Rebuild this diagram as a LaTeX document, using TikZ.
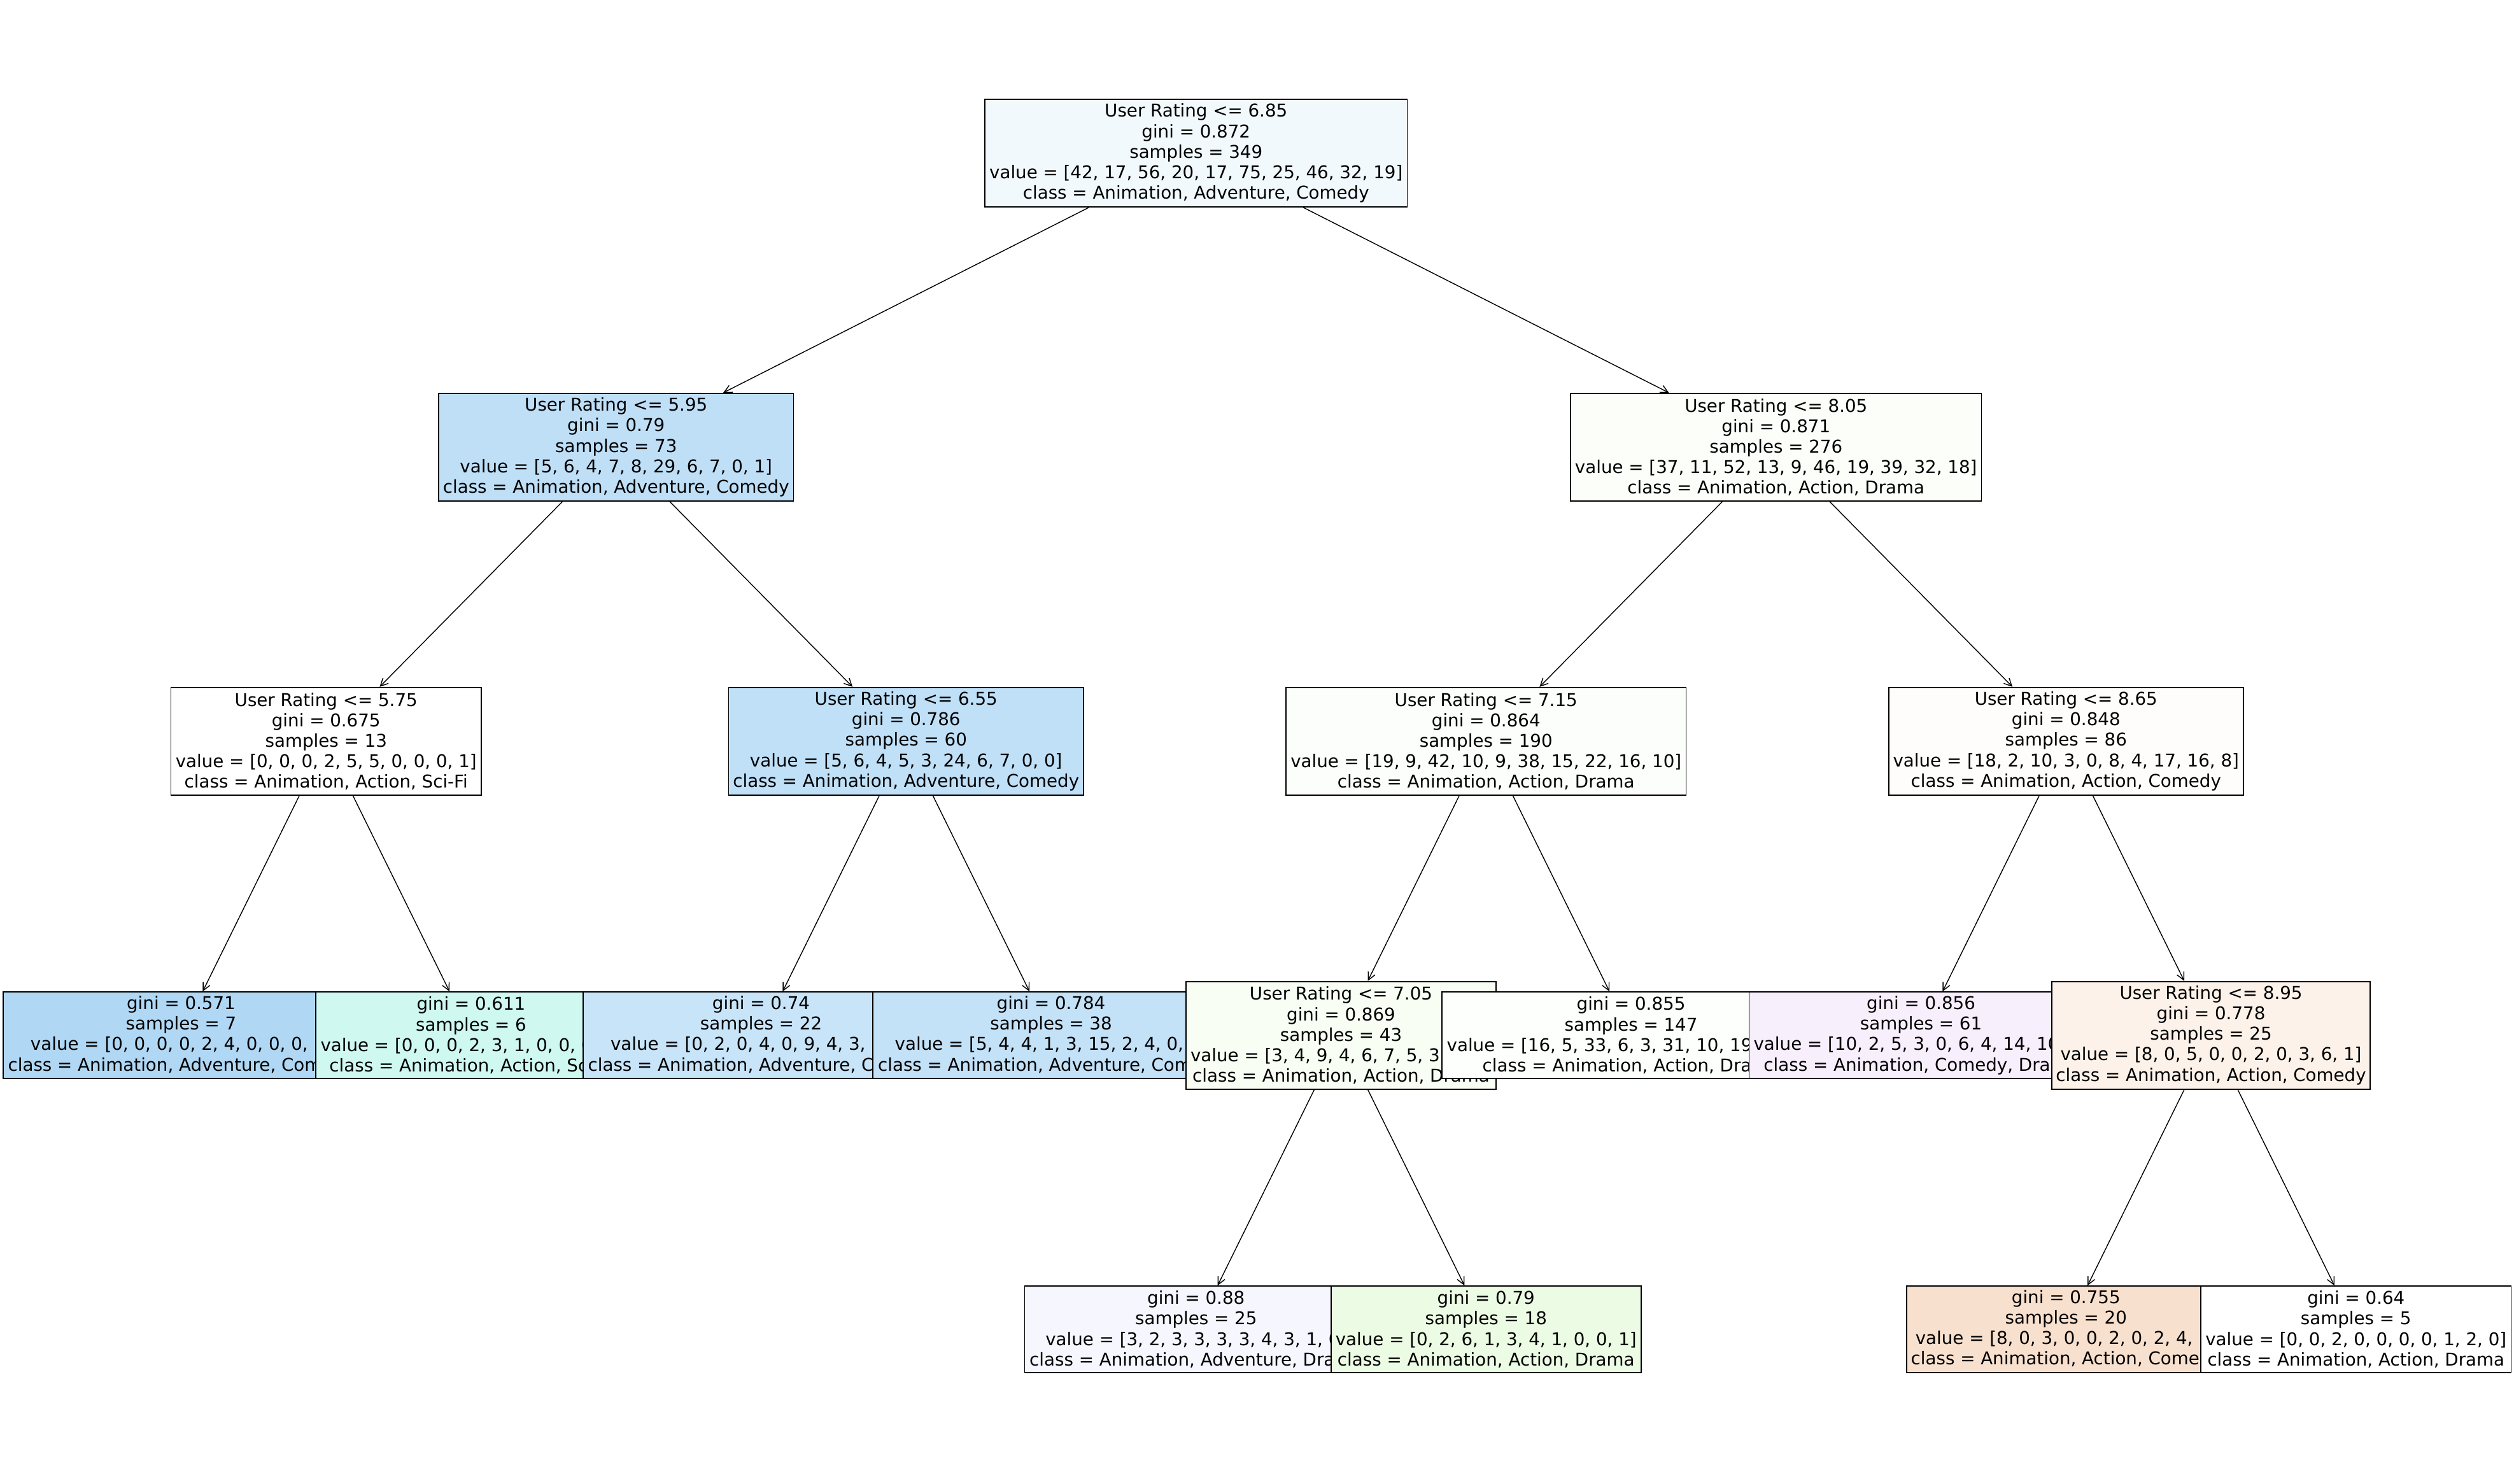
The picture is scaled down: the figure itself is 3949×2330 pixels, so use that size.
\documentclass[tikz,border=0pt]{standalone}
\usepackage{fontspec}
\setmainfont{DejaVu Sans}
\usetikzlibrary{arrows.meta}
\definecolor{cR}{RGB}{242,249,253}
\definecolor{cA}{RGB}{191,223,247}
\definecolor{cB}{RGB}{252,254,250}
\definecolor{cC}{RGB}{255,255,255}
\definecolor{cD}{RGB}{191,224,247}
\definecolor{cE}{RGB}{251,254,250}
\definecolor{cF}{RGB}{255,253,252}
\definecolor{cG}{RGB}{176,216,245}
\definecolor{cH}{RGB}{206,248,240}
\definecolor{cI}{RGB}{200,228,248}
\definecolor{cJ}{RGB}{195,225,247}
\definecolor{cK}{RGB}{248,254,244}
\definecolor{cL}{RGB}{253,255,252}
\definecolor{cM}{RGB}{248,239,253}
\definecolor{cN}{RGB}{252,242,234}
\definecolor{cO}{RGB}{246,246,254}
\definecolor{cP}{RGB}{236,251,227}
\definecolor{cQ}{RGB}{248,224,206}
\definecolor{cS}{RGB}{255,255,255}
\tikzset{
  tn/.style={draw=black, line width=0.5pt, rectangle, align=center,
    inner xsep=0.05cm, inner ysep=0.02cm,
    font=\fontsize{7.88}{9.13}\selectfont, minimum height=1.69cm},
  lf/.style={tn, minimum height=1.36cm},
  arr/.style={-{Straight Barb[length=0.12cm,width=0.12cm]}, line width=0.4pt},
}
\begin{document}
\begin{tikzpicture}[x=0.01cm, y=-0.01cm]
\useasboundingbox (0,0) rectangle (3949,2330);
% level 0
\node[tn, fill=cR, minimum width=6.63cm] (root) at (1878.75,240.5) {User Rating <= 6.85\\gini = 0.872\\samples = 349\\value = [42, 17, 56, 20, 17, 75, 25, 46, 32, 19]\\class = Animation, Adventure, Comedy};
% left subtree
\node[tn, fill=cA, minimum width=5.57cm] (A) at (967.75,702.4) {User Rating <= 5.95\\gini = 0.79\\samples = 73\\value = [5, 6, 4, 7, 8, 29, 6, 7, 0, 1]\\class = Animation, Adventure, Comedy};
\node[tn, fill=cC, minimum width=4.87cm] (C) at (512.25,1164.3) {User Rating <= 5.75\\gini = 0.675\\samples = 13\\value = [0, 0, 0, 2, 5, 5, 0, 0, 0, 1]\\class = Animation, Action, Sci-Fi};
\node[lf, fill=cG, minimum width=5.59cm] (G) at (284.5,1626.2) {gini = 0.571\\samples = 7\\value = [0, 0, 0, 0, 2, 4, 0, 0, 0, 1]\\class = Animation, Adventure, Comedy};
\node[lf, fill=cH, minimum width=4.87cm] (H) at (740,1626.2) {gini = 0.611\\samples = 6\\value = [0, 0, 0, 2, 3, 1, 0, 0, 0, 0]\\class = Animation, Action, Sci-Fi};
\node[tn, fill=cD, minimum width=5.57cm] (D) at (1423.25,1164.3) {User Rating <= 6.55\\gini = 0.786\\samples = 60\\value = [5, 6, 4, 5, 3, 24, 6, 7, 0, 0]\\class = Animation, Adventure, Comedy};
\node[lf, fill=cI, minimum width=5.59cm] (I) at (1195.5,1626.2) {gini = 0.74\\samples = 22\\value = [0, 2, 0, 4, 0, 9, 4, 3, 0, 0]\\class = Animation, Adventure, Comedy};
\node[lf, fill=cJ, minimum width=5.59cm] (J) at (1651,1626.2) {gini = 0.784\\samples = 38\\value = [5, 4, 4, 1, 3, 15, 2, 4, 0, 0]\\class = Animation, Adventure, Comedy};
% right subtree
\node[tn, fill=cB, minimum width=6.45cm] (B) at (2789.75,702.4) {User Rating <= 8.05\\gini = 0.871\\samples = 276\\value = [37, 11, 52, 13, 9, 46, 19, 39, 32, 18]\\class = Animation, Action, Drama};
\node[tn, fill=cE, minimum width=6.28cm] (E) at (2334.25,1164.3) {User Rating <= 7.15\\gini = 0.864\\samples = 190\\value = [19, 9, 42, 10, 9, 38, 15, 22, 16, 10]\\class = Animation, Action, Drama};
\node[tn, fill=cK, minimum width=4.87cm] (K) at (2106.5,1626.2) {User Rating <= 7.05\\gini = 0.869\\samples = 43\\value = [3, 4, 9, 4, 6, 7, 5, 3, 1, 1]\\class = Animation, Action, Drama};
\node[lf, fill=cO, minimum width=5.38cm] (O) at (1878.75,2088.1) {gini = 0.88\\samples = 25\\value = [3, 2, 3, 3, 3, 3, 4, 3, 1, 0]\\class = Animation, Adventure, Drama};
\node[lf, fill=cP, minimum width=4.87cm] (P) at (2334.25,2088.1) {gini = 0.79\\samples = 18\\value = [0, 2, 6, 1, 3, 4, 1, 0, 0, 1]\\class = Animation, Action, Drama};
\node[lf, fill=cL, minimum width=5.93cm] (L) at (2562,1626.2) {gini = 0.855\\samples = 147\\value = [16, 5, 33, 6, 3, 31, 10, 19, 15, 9]\\class = Animation, Action, Drama};
\node[tn, fill=cF, minimum width=5.57cm] (F) at (3245.25,1164.3) {User Rating <= 8.65\\gini = 0.848\\samples = 86\\value = [18, 2, 10, 3, 0, 8, 4, 17, 16, 8]\\class = Animation, Action, Comedy};
\node[lf, fill=cM, minimum width=5.40cm] (M) at (3017.5,1626.2) {gini = 0.856\\samples = 61\\value = [10, 2, 5, 3, 0, 6, 4, 14, 10, 7]\\class = Animation, Comedy, Drama};
\node[tn, fill=cN, minimum width=5.0cm] (N) at (3473,1626.2) {User Rating <= 8.95\\gini = 0.778\\samples = 25\\value = [8, 0, 5, 0, 0, 2, 0, 3, 6, 1]\\class = Animation, Action, Comedy};
\node[lf, fill=cQ, minimum width=5.0cm] (Q) at (3245.25,2088.1) {gini = 0.755\\samples = 20\\value = [8, 0, 3, 0, 0, 2, 0, 2, 4, 1]\\class = Animation, Action, Comedy};
\node[lf, fill=cS, minimum width=4.87cm] (R) at (3700.75,2088.1) {gini = 0.64\\samples = 5\\value = [0, 0, 2, 0, 0, 0, 0, 1, 2, 0]\\class = Animation, Action, Drama};
% connectors
\draw[arr] (root) -- (A);
\draw[arr] (root) -- (B);
\draw[arr] (A) -- (C);
\draw[arr] (A) -- (D);
\draw[arr] (C) -- (G);
\draw[arr] (C) -- (H);
\draw[arr] (D) -- (I);
\draw[arr] (D) -- (J);
\draw[arr] (B) -- (E);
\draw[arr] (B) -- (F);
\draw[arr] (E) -- (K);
\draw[arr] (E) -- (L);
\draw[arr] (K) -- (O);
\draw[arr] (K) -- (P);
\draw[arr] (F) -- (M);
\draw[arr] (F) -- (N);
\draw[arr] (N) -- (Q);
\draw[arr] (N) -- (R);
\end{tikzpicture}
\end{document}
